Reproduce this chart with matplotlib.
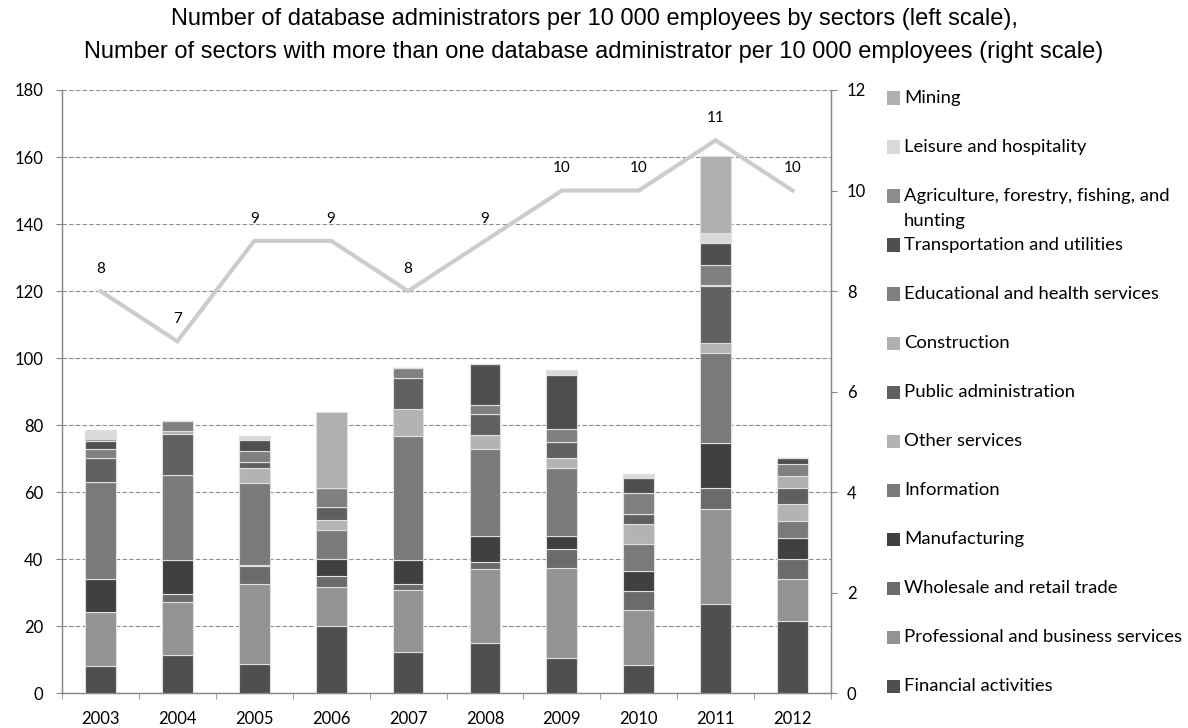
import matplotlib
matplotlib.use('Agg')
import matplotlib.pyplot as plt
from matplotlib.patches import Rectangle
import numpy as np

# ---------------- data ----------------
years = ['2003', '2004', '2005', '2006', '2007', '2008', '2009', '2010', '2011', '2012']

financial      = [8.0, 11.5, 8.7, 20.1, 12.4, 14.9, 10.4, 8.3, 26.6, 21.5]
professional   = [16.2, 15.7, 23.9, 11.5, 18.4, 22.2, 26.9, 16.6, 28.5, 12.5]
wholesale      = [0.0, 2.5, 5.3, 3.4, 1.8, 2.1, 5.7, 5.6, 6.1, 6.1]
manufacturing  = [9.9, 10.1, 0.3, 5.2, 7.2, 7.7, 3.9, 6.1, 13.5, 6.2]
information    = [28.8, 25.4, 24.4, 8.5, 37.1, 26.0, 20.2, 7.9, 26.8, 5.0]
other_services = [0.0, 0.0, 4.5, 3.0, 7.9, 4.1, 3.0, 5.9, 3.0, 5.1]
public_admin   = [7.3, 12.3, 1.8, 4.0, 9.4, 6.2, 4.8, 3.1, 17.0, 4.8]
construction   = [0.0, 0.9, 0.0, 0.0, 0.0, 0.0, 0.0, 0.0, 0.2, 3.5]
educational    = [2.8, 2.8, 3.3, 5.6, 2.8, 2.8, 3.9, 6.3, 6.2, 3.6]
transportation = [2.4, 0.0, 3.4, 0.0, 0.0, 12.2, 16.1, 4.3, 6.4, 1.9]
agriculture    = [0.4, 0.0, 0.0, 0.0, 0.0, 0.0, 0.0, 0.0, 0.0, 0.0]
leisure        = [2.9, 0.0, 1.2, 0.0, 0.0, 0.0, 1.7, 1.3, 3.1, 0.0]
mining         = [0.0, 0.0, 0.0, 22.6, 0.0, 0.0, 0.0, 0.0, 23.0, 0.0]

sector_labels = ['Financial activities', 'Professional and business services',
                 'Wholesale and retail trade', 'Manufacturing', 'Information',
                 'Other services', 'Public administration', 'Construction',
                 'Educational and health services', 'Transportation and utilities',
                 'Agriculture, forestry, fishing, and\nhunting', 'Leisure and hospitality',
                 'Mining']

sectors_count = [8, 7, 9, 9, 8, 9, 10, 10, 11, 10]

title_lines = ['Number of database administrators per 10 000 employees by sectors (left scale),',
               'Number of sectors with more than one database administrator per 10 000 employees (right scale)']

# ---------------- style ----------------
series_values = [financial, professional, wholesale, manufacturing, information,
                 other_services, public_admin, construction, educational,
                 transportation, agriculture, leisure, mining]
colors = ['#4f4f4f', '#939393', '#6b6b6b', '#404040', '#7a7a7a',
          '#b3b3b3', '#606060', '#b0b0b0', '#808080',
          '#4f4f4f', '#8c8c8c', '#dadada', '#b0b0b0']

TICKFONT = 'Lato'
W, H = 1188, 728
fig = plt.figure(figsize=(W / 100, H / 100), dpi=100)
L, R, T, B = 62, 831, 90, 693.3
ax = fig.add_axes([L / W, 1 - B / H, (R - L) / W, (B - T) / H])

x = np.arange(len(years))
bottom = np.zeros(len(years))
for vals, col in zip(series_values, colors):
    v = np.array(vals, dtype=float)
    ax.bar(x, v, width=0.4, bottom=bottom, color=col, edgecolor='#dedede',
           linewidth=0.8, zorder=3)
    bottom += v

ax.set_xlim(-0.5, len(years) - 0.5)
ax.set_ylim(0, 180)
ax.set_yticks(range(0, 181, 20))
ax.yaxis.grid(True, linestyle=(0, (4, 2)), color='#8f8f8f', linewidth=0.8, zorder=0)
ax.set_axisbelow(True)

ax.set_xticks(x)
ax.set_xticklabels(years)
ax.set_xticks(np.arange(-0.5, len(years), 1.0), minor=True)
ax.tick_params(axis='x', which='major', length=0, pad=12.5)
ax.tick_params(axis='x', which='minor', length=4.5, color='#888888', direction='out')
ax.tick_params(axis='y', length=4.5, color='#888888', pad=9)
for lab in ax.get_xticklabels() + ax.get_yticklabels():
    lab.set_fontfamily(TICKFONT)
    lab.set_fontsize(12)

for s in ['left', 'right', 'bottom']:
    ax.spines[s].set_color('#888888')
    ax.spines[s].set_linewidth(1.0)
ax.spines['top'].set_visible(False)

ax2 = ax.twinx()
ax2.set_ylim(0, 12)
ax2.set_yticks(range(0, 13, 2))
ax2.plot(x, sectors_count, color='#cccccc', linewidth=3, zorder=5, solid_joinstyle='miter')
for xi, c in zip(x, sectors_count):
    ax2.annotate(str(c), (xi, c), xytext=(0, 16), textcoords='offset points',
                 ha='center', va='center', fontsize=11, fontfamily=TICKFONT)
ax2.tick_params(axis='y', length=4.5, color='#888888', pad=7)
for lab in ax2.get_yticklabels():
    lab.set_fontfamily(TICKFONT)
    lab.set_fontsize(12)
for s in ['left', 'right', 'bottom']:
    ax2.spines[s].set_color('#888888')
ax2.spines['top'].set_visible(False)

# title (two centred lines)
for yc, line in zip([19, 52], title_lines):
    fig.text(594 / W, 1 - yc / H, line, ha='center', va='center', fontsize=17,
             fontfamily='Liberation Sans')

# legend (drawn top-down, Mining first)
leg_x_sq = 887
leg_x_txt = 904
leg_y0 = 98
leg_dy = 49
sq = 13
for i, (lab, col) in enumerate(zip(sector_labels[::-1], colors[::-1])):
    yc = leg_y0 + i * leg_dy
    fig.patches.append(Rectangle((leg_x_sq / W, 1 - (yc + sq / 2) / H), sq / W, sq / H,
                                 transform=fig.transFigure, facecolor=col,
                                 edgecolor='none'))
    for j, ln in enumerate(lab.split('\n')):
        fig.text(leg_x_txt / W, 1 - (yc + j * 25) / H, ln, ha='left', va='center',
                 fontsize=13.3, fontfamily=TICKFONT)

fig.savefig('out.png', dpi=100)
